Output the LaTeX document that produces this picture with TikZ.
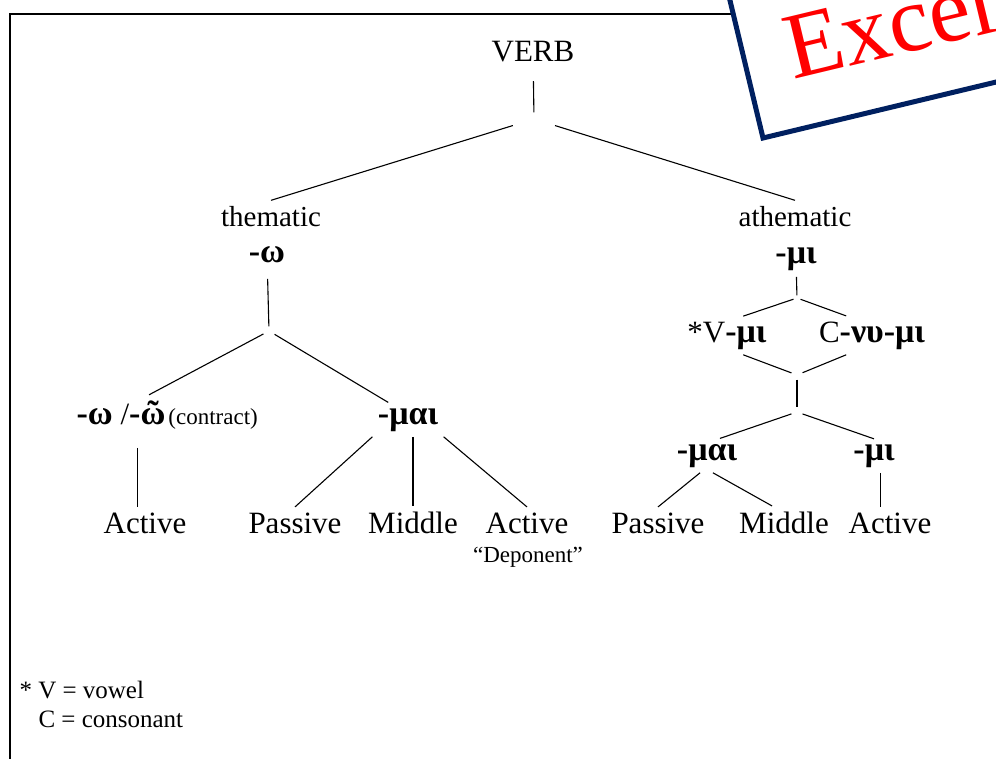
\documentclass[tikz,border=0pt]{standalone}
\usepackage{fontspec}
\setmainfont{Liberation Serif}
\usepackage{xcolor}
\usetikzlibrary{positioning}
\definecolor{stampblue}{RGB}{0,32,96}
\newcommand{\gkb}[1]{{\fontsize{34}{40}\selectfont\bfseries #1}}

\begin{document}
\begin{tikzpicture}
	% Styles
	[
	x=1pt, y=-1pt, line width=1.1pt,
	lbl/.style={font=\fontsize{31}{36}\selectfont, inner sep=5pt, anchor=base},
	cls/.style={font=\fontsize{29}{34}\selectfont, inner sep=6pt, anchor=base},
	small/.style={font=\fontsize{23}{28}\selectfont, inner sep=2pt, anchor=base},
	note/.style={font=\fontsize{25}{30}\selectfont, inner sep=0pt, anchor=base west},
	joint/.style={inner sep=0pt, minimum width=10pt, minimum height=8pt},
	stamp/.style={draw=stampblue, fill=white, line width=5pt},
	stamptext/.style={text=red, font=\fontsize{94}{100}\selectfont, inner sep=0pt},
	]

	\useasboundingbox (0,0) rectangle (996,759);
	\clip (0,0) rectangle (996,759);

	% Frame and stamp
	\draw[line width=1.8pt] (10,759) -- (10,14) -- (760,14);
	\draw[stamp, rotate around={13.5:(763,138)}] (763,138) rectangle (1263,-112);
	\node at (793,80)	(stamptxt)	[stamptext, rotate=13.5, anchor=base west] {Excerpt};

	% Nodes
	\node at (533,62)	(verb)	[lbl] {VERB};
	\node at (534,119)	(j1)	[joint, minimum width=48pt, minimum height=12pt] {};
	\node at (271,227)	(them)	[cls] {thematic};
	\node at (795,227)	(athm)	[cls] {athematic};

	% thematic side
	\node at (267,263)	(w)	[lbl] {\gkb{-ω}};
	\node at (269,331)	(j2)	[joint] {};
	\node at (121,424)	(omega)	[lbl] {\gkb{-ω} /\gkb{-ῶ}};
	\node	(contr)	[small, base right=-5pt of omega] {(contract)};
	\node at (408,424)	(mai1)	[lbl] {\gkb{-μαι}};
	\node at (145,533)	(act1)	[lbl] {Active};
	\node at (295,533)	(pas1)	[lbl] {Passive};
	\node at (413,533)	(mid1)	[lbl] {Middle};
	\node at (527,533)	(act2)	[lbl] {Active};
	\node at (528,562)	(dep)	[small] {“Deponent”};

	% athematic side
	\node at (796,264)	(mi1)	[lbl] {\gkb{-μι}};
	\node at (797,298)	(j3)	[joint, minimum width=6pt, minimum height=4pt] {};
	\node at (727,342)	(vmi)	[lbl] {*V\gkb{-μι}};
	\node at (872,342)	(cnmi)	[lbl] {C\gkb{-νυ-μι}};
	\node at (797,375)	(j4)	[joint] {};
	\node at (797,412)	(j5)	[joint] {};
	\node at (707,460)	(mai2)	[lbl] {\gkb{-μαι}};
	\node at (874,460)	(mi2)	[lbl] {\gkb{-μι}};
	\node at (658,533)	(pas2)	[lbl] {Passive};
	\node at (784,533)	(mid2)	[lbl] {Middle};
	\node at (890,533)	(act3)	[lbl] {Active};

	% Footnote
	\node at (19,698)	(fn1)	[note] {* V = vowel};
	\node at (38,727)	(fn2)	[note] {C = consonant};

	% Connections
	\draw[shorten <=13pt] (verb) -- (j1);
	\draw (j1) -- (them.north);
	\draw (j1) -- (athm.north);
	\draw[shorten <=10pt] (w) -- (j2);
	\draw (j2) -- (omega.32);
	\draw (j2) -- (mai1.139);
	\draw[shorten <=18pt] (omega.-47) -- (omega.-47 |- act1.north);
	\draw (mai1.south west) -- (pas1.north);
	\draw (mai1.south -| mid1.north) -- (mid1.north);
	\draw (mai1.south east) -- (act2.north);
	\draw (mi1) -- (j3);
	\draw (j3) -- (vmi.50);
	\draw (j3) -- (cnmi.143);
	\draw (vmi.-50) -- (j4);
	\draw (cnmi.-143) -- (j4);
	\draw (j4) -- (j5);
	\draw (j5) -- (mai2.53);
	\draw (j5) -- (mi2.north);
	\draw (mai2.-112) -- (pas2.north);
	\draw (mai2.-71) -- (mid2.126);
	\draw (mi2.-70) -- (mi2.-70 |- act3.north);

\end{tikzpicture}
\end{document}
